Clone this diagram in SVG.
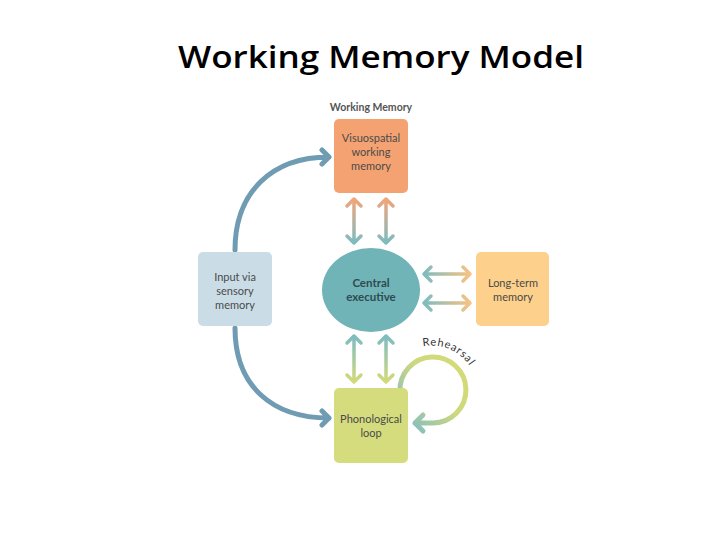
<svg xmlns="http://www.w3.org/2000/svg" width="720" height="540" viewBox="0 0 720 540">
<defs>
<style>
.title{font-family:"Open Sans","Liberation Sans",sans-serif;font-weight:600;font-size:30px;fill:#000}
.lbl{font-family:Lato,"Noto Sans","Liberation Sans",sans-serif;font-size:11px;fill:#4a4a4a;text-anchor:middle}
.hdr{font-family:Lato,"Noto Sans","Liberation Sans",sans-serif;font-size:10.5px;font-weight:700;fill:#555;text-anchor:middle}
.ce{font-family:Lato,"Noto Sans","Liberation Sans",sans-serif;font-size:11.5px;font-weight:700;fill:#2f4a52;text-anchor:middle}
.blue{fill:none;stroke:#6f9bb3;stroke-width:5;stroke-linecap:round;stroke-linejoin:round}
.dbl{fill:none;stroke-width:3.5;stroke-linecap:round;stroke-linejoin:round}
</style>
<linearGradient id="gTop" gradientUnits="userSpaceOnUse" x1="0" y1="199" x2="0" y2="243">
<stop offset="0" stop-color="#f2a57a"/><stop offset="1" stop-color="#7dbcc0"/>
</linearGradient>
<linearGradient id="gBot" gradientUnits="userSpaceOnUse" x1="0" y1="336" x2="0" y2="382">
<stop offset="0" stop-color="#7dbcc0"/><stop offset="1" stop-color="#d3da7a"/>
</linearGradient>
<linearGradient id="gH" gradientUnits="userSpaceOnUse" x1="424" y1="0" x2="470" y2="0">
<stop offset="0" stop-color="#7dbcc0"/><stop offset="1" stop-color="#f7c283"/>
</linearGradient>
<linearGradient id="gLoop" gradientUnits="userSpaceOnUse" x1="466" y1="380" x2="415" y2="423">
<stop offset="0" stop-color="#d3da78"/><stop offset="0.45" stop-color="#cdd87e"/><stop offset="1" stop-color="#8fc2b6"/>
</linearGradient>
<path id="rehPath" d="M423,346.5 A45,45 0 0,1 477,390"/>
</defs>
<rect width="720" height="540" fill="#fff"/>
<text class="title" x="178" y="68" textLength="406" lengthAdjust="spacingAndGlyphs">Working Memory Model</text>
<text class="hdr" x="371" y="111">Working Memory</text>

<g id="connectors">
<path class="blue" d="M235,250 C235,192 272,157 329,157 M322,150 L329,157 L322,164"/>
<path class="blue" d="M235,328 C235,386 272,418 329,418 M322,411 L329,418 L322,425"/>
<path class="dbl" stroke="url(#gTop)" d="M354,199 L354,243 M347,206 L354,199 L361,206 M347,236 L354,243 L361,236"/>
<path class="dbl" stroke="url(#gTop)" d="M386,199 L386,243 M379,206 L386,199 L393,206 M379,236 L386,243 L393,236"/>
<path class="dbl" stroke="url(#gBot)" d="M354,336 L354,382 M347,343 L354,336 L361,343 M347,375 L354,382 L361,375"/>
<path class="dbl" stroke="url(#gBot)" d="M386,336 L386,382 M379,343 L386,336 L393,343 M379,375 L386,382 L393,375"/>
<path class="dbl" stroke="url(#gH)" d="M424,274 L470,274 M431,267 L424,274 L431,281 M463,267 L470,274 L463,281"/>
<path class="dbl" stroke="url(#gH)" d="M424,303 L470,303 M431,296 L424,303 L431,310 M463,296 L470,303 L463,310"/>
<path fill="none" stroke="url(#gLoop)" stroke-width="5" stroke-linecap="round" stroke-linejoin="round" d="M400,392 A33,33 0 1,1 433,423 L415,423 M423,415 L415,423 L423,431"/>
<text font-family="Lato,'Noto Sans','Liberation Sans',sans-serif" font-size="11" fill="#333" letter-spacing="0.8"><textPath href="#rehPath">Rehearsal</textPath></text>
</g>

<g id="visuospatial">
<rect x="334" y="119" width="74" height="74" rx="5" fill="#f5a272"/>
<text class="lbl" x="371" y="142">Visuospatial</text>
<text class="lbl" x="371" y="156">working</text>
<text class="lbl" x="371" y="170">memory</text>
</g>
<g id="input">
<rect x="198" y="252" width="74" height="74" rx="5" fill="#cadde7"/>
<text class="lbl" x="235" y="281">Input via</text>
<text class="lbl" x="235" y="295">sensory</text>
<text class="lbl" x="235" y="309">memory</text>
</g>
<g id="central">
<ellipse cx="371" cy="290" rx="49" ry="42" fill="#71b4b7"/>
<text class="ce" x="371" y="287">Central</text>
<text class="ce" x="371" y="301">executive</text>
</g>
<g id="longterm">
<rect x="476" y="252" width="73" height="74" rx="5" fill="#fdd08b"/>
<text class="lbl" x="513" y="287">Long-term</text>
<text class="lbl" x="513" y="301">memory</text>
</g>
<g id="phonological">
<rect x="334" y="388" width="74" height="75" rx="5" fill="#d5dc7e"/>
<text class="lbl" x="371" y="423">Phonological</text>
<text class="lbl" x="371" y="437">loop</text>
</g>
</svg>
